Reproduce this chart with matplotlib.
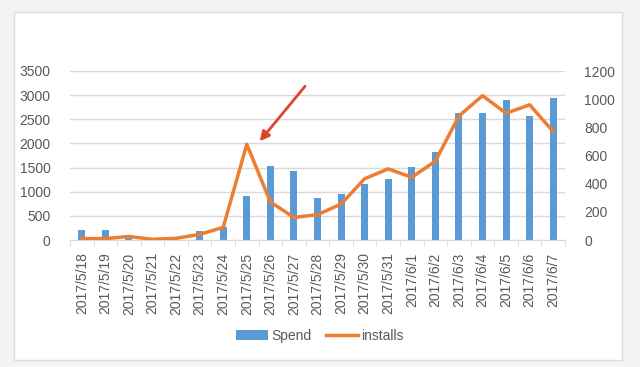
import matplotlib.pyplot as plt
from matplotlib.patches import Rectangle
import numpy as np

dates = ['2017/5/18', '2017/5/19', '2017/5/20', '2017/5/21', '2017/5/22', '2017/5/23',
         '2017/5/24', '2017/5/25', '2017/5/26', '2017/5/27', '2017/5/28', '2017/5/29',
         '2017/5/30', '2017/5/31', '2017/6/1', '2017/6/2', '2017/6/3', '2017/6/4',
         '2017/6/5', '2017/6/6', '2017/6/7']
spend = [200, 200, 90, 0, 0, 180, 260, 920, 1530, 1430, 860, 960,
         1170, 1270, 1520, 1830, 2620, 2640, 2890, 2570, 2940]
installs = [10, 10, 25, 5, 12, 40, 90, 680, 270, 160, 180, 255,
            435, 505, 445, 560, 880, 1025, 900, 960, 770]

txt = '#595959'
plt.rcParams['font.family'] = ['Liberation Sans', 'DejaVu Sans']

fig = plt.figure(figsize=(6.4, 3.67), dpi=100)
fig.patch.set_facecolor('#f3f3f3')
# white card behind the chart
card = Rectangle((14 / 640, 1 - 360 / 367), 608 / 640, 348 / 367,
                 transform=fig.transFigure, facecolor='white',
                 edgecolor='#dcdcdc', lw=1, zorder=-10)
fig.add_artist(card)

ax = fig.add_axes([70 / 640, 1 - 240 / 367, 495 / 640, 169 / 367])
ax.set_facecolor('none')
x = np.arange(len(dates))
bars = ax.bar(x, spend, width=0.3, color='#5b9bd5', label='Spend', zorder=2)
ax.set_ylim(0, 3500)
ax.set_xlim(-0.5, len(dates) - 0.5)
ax.set_yticks(range(0, 3501, 500))
ax.grid(axis='y', color='#d9d9d9', lw=1)
ax.set_axisbelow(True)
ax.set_xticks(x)
ax.set_xticklabels(dates, rotation=90, fontsize=10, color=txt)
ax.tick_params(axis='x', length=0, pad=9)
ax.set_xticks(np.arange(-0.5, len(dates), 1), minor=True)
ax.tick_params(axis='x', which='minor', length=4, color='#d9d9d9')
ax.tick_params(axis='y', length=0, labelsize=10, labelcolor=txt, pad=14)
for s in ['top', 'left', 'right']:
    ax.spines[s].set_visible(False)
ax.spines['bottom'].set_color('#d9d9d9')

ax2 = ax.twinx()
line, = ax2.plot(x, installs, color='#ed7d31', lw=2.5, label='installs', zorder=3)
ax2.set_ylim(0, 1200)
ax2.set_yticks(range(0, 1201, 200))
ax2.tick_params(axis='y', length=0, labelsize=10, labelcolor=txt, pad=14)
for s in ['top', 'left', 'right', 'bottom']:
    ax2.spines[s].set_visible(False)

ax.annotate('', xy=(7.47, 2000), xytext=(9.55, 3230),
            arrowprops=dict(arrowstyle='-|>', color='#e0452b', lw=2,
                            mutation_scale=14), zorder=5)

fig.legend([bars, line], ['Spend', 'installs'], loc='center', ncol=2,
           bbox_to_anchor=(0.5, 1 - 336 / 367), frameon=False, fontsize=10,
           labelcolor=txt, handlelength=2.3, handletextpad=0.2, columnspacing=1.1)

fig.savefig('out.png', dpi=100, facecolor=fig.get_facecolor())
